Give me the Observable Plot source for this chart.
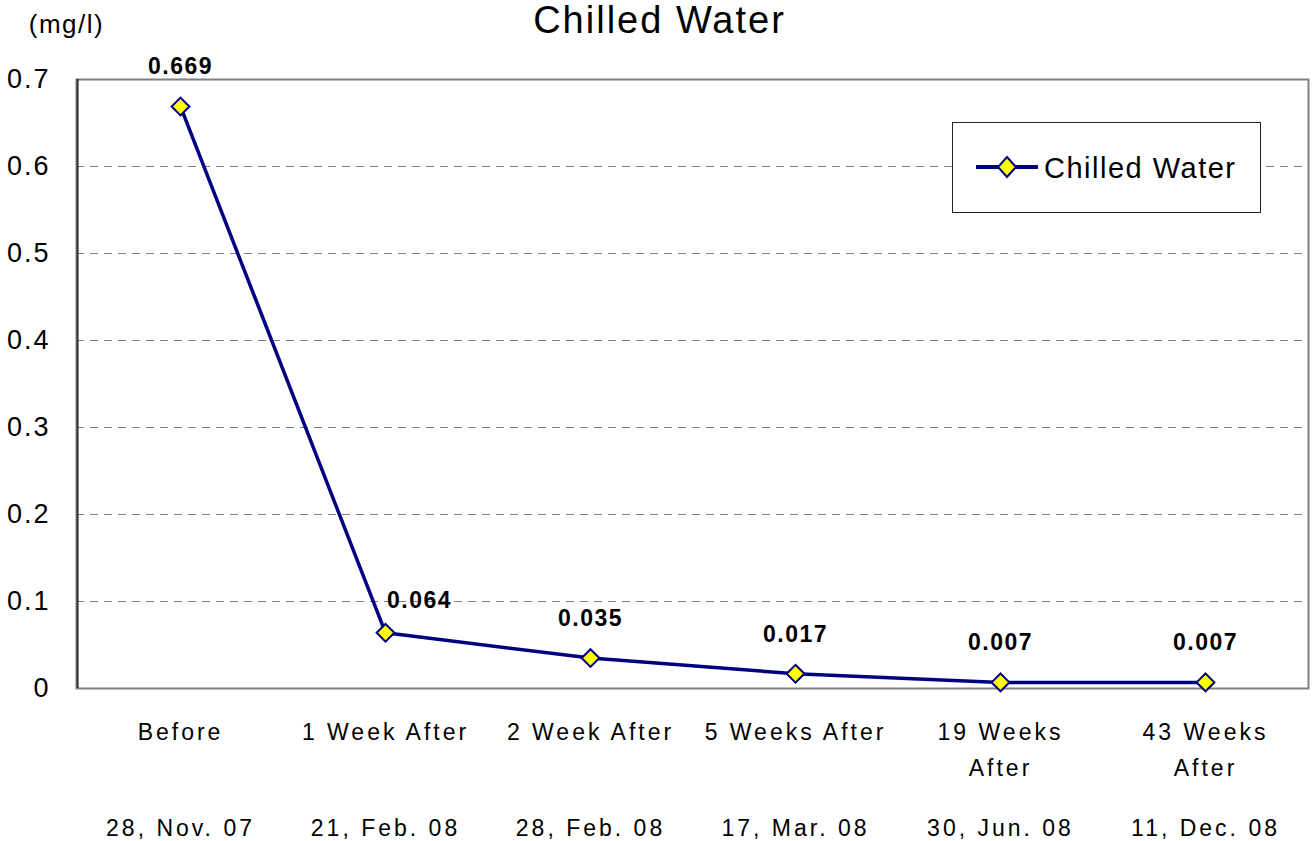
<!DOCTYPE html>
<html>
<head>
<meta charset="utf-8">
<script src="https://cdn.jsdelivr.net/npm/d3@7"></script>
<script src="https://cdn.jsdelivr.net/npm/@observablehq/plot@0.6"></script>
<style>
  html, body { margin: 0; padding: 0; background: #fff; }
  #wrap { position: relative; width: 1312px; height: 841px; font-family: "Liberation Sans", Arial, sans-serif; }
  #legend { position: absolute; left: 952px; top: 122px; width: 307px; height: 89px; border: 1px solid #222; background: #fff; }
  #legend svg { position: absolute; left: 0; top: 0; }
  g[aria-label="x-axis tick label"] text { letter-spacing: 3px; }
  g[aria-label="y-axis tick label"] text { letter-spacing: 2px; }
  g.vlabel text { letter-spacing: 1.5px; }
  g.title text { letter-spacing: 2px; }
  g.unit text { letter-spacing: 1.5px; }
</style>
</head>
<body>
<div id="wrap"></div>
<script>
const categories = ["Before", "1 Week After", "2 Week After", "5 Weeks After", "19 Weeks\nAfter", "43 Weeks\nAfter"];
const dates = ["28, Nov. 07", "21, Feb. 08", "28, Feb. 08", "17, Mar. 08", "30, Jun. 08", "11, Dec. 08"];
const values = [0.669, 0.064, 0.035, 0.017, 0.007, 0.007];
const yTicks = [0, 0.1, 0.2, 0.3, 0.4, 0.5, 0.6, 0.7];
const seriesName = "Chilled Water";
const titleText = "Chilled Water";
const unitText = "(mg/l)";

const data = categories.map((c, i) => ({cat: c, date: dates[i], value: values[i], i}));
const dateOf = Object.fromEntries(categories.map((c, i) => [c, dates[i]]));

const navy = "#000080";
const font = "\"Liberation Sans\", Arial, sans-serif";

const chart = Plot.plot({
  width: 1312,
  height: 841,
  marginLeft: 76,
  marginRight: 4,
  marginTop: 79,
  marginBottom: 153,
  style: {fontFamily: font, background: "#fff", color: "#000"},
  x: {type: "point", domain: categories, padding: 0.5, label: null},
  y: {domain: [0, 0.7], label: null},
  marks: [
    Plot.gridY(yTicks.slice(1, -1), {stroke: "#808080", strokeOpacity: 1, strokeWidth: 1, strokeDasharray: "8,6"}),
    Plot.frame({stroke: "#808080", strokeWidth: 2}),
    Plot.ruleX([categories[0]], {dx: -102.9, stroke: "#333", strokeWidth: 2}),
    Plot.axisY(yTicks, {tickSize: 0, tickPadding: 26, fontSize: 27, label: null, tickFormat: d => d === 0 ? "0" : d3.format(".1f")(d)}),
    Plot.axisX({tickSize: 0, tickPadding: 26, fontSize: 23, lineHeight: 1.57, label: null}),
    Plot.axisX({tickSize: 0, tickPadding: 131, fontSize: 23, label: null, tickFormat: d => dateOf[d]}),
    Plot.line(data, {x: "cat", y: "value", stroke: navy, strokeWidth: 3.5}),
    Plot.dot(data, {x: "cat", y: "value", symbol: "diamond2", r: 8, fill: "#ffff00", stroke: navy, strokeWidth: 2}),
    Plot.text(data.filter(d => d.i !== 1), {x: "cat", y: "value", text: d => d3.format(".3f")(d.value), dy: -32, lineAnchor: "bottom", fontSize: 23, fontWeight: "bold", className: "vlabel"}),
    Plot.text(data.filter(d => d.i === 1), {x: "cat", y: "value", text: d => d3.format(".3f")(d.value), dx: 34, dy: -25, lineAnchor: "bottom", fontSize: 23, fontWeight: "bold", className: "vlabel"}),
    Plot.text([titleText], {frameAnchor: "top", dx: -33, dy: -47, lineAnchor: "bottom", fontSize: 38, className: "title"}),
    Plot.text([unitText], {frameAnchor: "top-left", dx: -10, dy: -47, textAnchor: "middle", lineAnchor: "bottom", fontSize: 26, className: "unit"})
  ]
});

const wrap = document.getElementById("wrap");
wrap.appendChild(chart);

const legend = document.createElement("div");
legend.id = "legend";
legend.innerHTML = `<svg width="307" height="89" xmlns="http://www.w3.org/2000/svg" style="font-family:${font.replace(/"/g, "'")}">
  <line x1="23" y1="44" x2="85" y2="44" stroke="${navy}" stroke-width="4"/>
  <path d="M54,34 L63,44 L54,54 L45,44 Z" fill="#ffff00" stroke="${navy}" stroke-width="2"/>
  <text x="91" y="55" font-size="29" style="letter-spacing:1.5px">${seriesName}</text>
</svg>`;
wrap.appendChild(legend);
</script>
</body>
</html>
